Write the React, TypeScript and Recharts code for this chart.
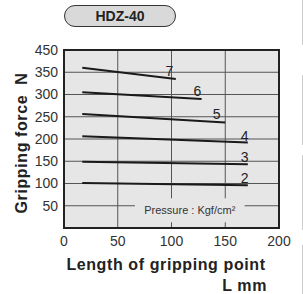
import React from 'react';
import { ComposedChart, Line, Scatter, XAxis, YAxis, CartesianGrid, ReferenceArea } from 'recharts';

// pressure curves (Kgf/cm²): start and end points
const pressures = ['7', '6', '5', '4', '3', '2'];
const lineX = [
  [17, 104],
  [17, 128],
  [17, 150],
  [17, 171],
  [17, 171],
  [17, 171],
];
const lineY = [
  [360, 335],
  [305, 290],
  [256, 237],
  [206, 192],
  [149, 143],
  [101, 96],
];
// where each pressure number sits
const labelX = [98, 124, 142, 168, 168, 168];
const labelY = [352, 307, 257, 207, 160, 113];

const xTicks = [0, 50, 100, 150, 200];
const yTicks = [50, 100, 150, 200, 250, 300, 350, 400];
const yTickLabels = ['50', '100', '150', '200', '250', '300', '350', '450'];

const font = '"Liberation Sans", Arial, sans-serif';
const bg = '#e6e6e6';

const series = pressures.map((p, i) => ({
  name: p,
  data: lineX[i].map((x, j) => ({ x, y: lineY[i][j] })),
}));
const labels = pressures.map((p, i) => ({ x: labelX[i], y: labelY[i], name: p }));

const LabelShape = (props: any) => (
  <text
    x={props.cx}
    y={props.cy}
    textAnchor="middle"
    dominantBaseline="central"
    fontSize={14}
    fontFamily={font}
    fill="#222"
  >
    {props.payload.name}
  </text>
);

const titleStyle: React.CSSProperties = {
  position: 'absolute',
  whiteSpace: 'nowrap',
  fontWeight: 'bold',
  fontSize: 16,
  letterSpacing: 0.6,
  color: '#222',
};

export default function App() {
  return (
    <div style={{ position: 'absolute', left: 0, top: 0, width: 303, height: 294, background: '#fff', fontFamily: font }}>
      <div
        style={{
          position: 'absolute', left: 64, top: 5, width: 110, height: 20,
          border: '1.5px solid #333', borderRadius: 11, background: '#d9d9d9',
          fontWeight: 'bold', fontSize: 14, color: '#222',
          display: 'flex', alignItems: 'center', justifyContent: 'center',
        }}
      >
        HDZ-40
      </div>

      <ComposedChart width={303} height={294} margin={{ top: 50, right: 24, bottom: 42, left: 0 }}>
        <CartesianGrid
          fill={bg}
          fillOpacity={1}
          stroke="#555"
          strokeWidth={1}
          verticalValues={xTicks}
          horizontalValues={yTicks}
        />
        <XAxis
          type="number"
          dataKey="x"
          domain={[0, 200]}
          ticks={xTicks}
          interval={0}
          tickLine={false}
          axisLine={false}
          tick={{ fontSize: 14, fill: '#333', fontFamily: font }}
          tickMargin={2}
          height={24}
        />
        <YAxis
          type="number"
          dataKey="y"
          domain={[0, 400]}
          ticks={yTicks}
          interval={0}
          tickFormatter={(v: number) => yTickLabels[yTicks.indexOf(v)]}
          tickLine={false}
          axisLine={false}
          tick={{ fontSize: 14, fill: '#333', fontFamily: font }}
          tickMargin={0}
          width={64}
        />
        <ReferenceArea
          x1={66}
          x2={168}
          y1={13}
          y2={67}
          fill={bg}
          fillOpacity={1}
          stroke="none"
          label={{ value: 'Pressure : Kgf/cm²', position: 'center', fontSize: 11, fill: '#333', fontFamily: font }}
        />
        <ReferenceArea x1={0} x2={200} y1={0} y2={400} fill="none" stroke="#222" strokeWidth={2} />
        {series.map((s) => (
          <Line
            key={s.name}
            data={s.data}
            dataKey="y"
            type="linear"
            stroke="#1a1a1a"
            strokeWidth={2}
            dot={false}
            isAnimationActive={false}
          />
        ))}
        <Scatter data={labels} dataKey="y" shape={LabelShape} isAnimationActive={false} />
      </ComposedChart>

      <div style={{ ...titleStyle, left: 22, top: 143, transform: 'translate(-50%, -50%) rotate(-90deg)' }}>
        Gripping force&nbsp; N
      </div>
      <div style={{ ...titleStyle, left: 166, top: 265, transform: 'translate(-50%, -50%)' }}>
        Length of gripping point
      </div>
      <div style={{ ...titleStyle, right: 36, top: 286, transform: 'translateY(-50%)' }}>
        L mm
      </div>

      {[[0, 45], [75, 145], [155, 230], [245, 294]].map(([a, b]) => (
        <div key={a} style={{ position: 'absolute', left: 302, top: a, width: 1, height: b - a, background: '#ccc' }} />
      ))}
    </div>
  );
}
